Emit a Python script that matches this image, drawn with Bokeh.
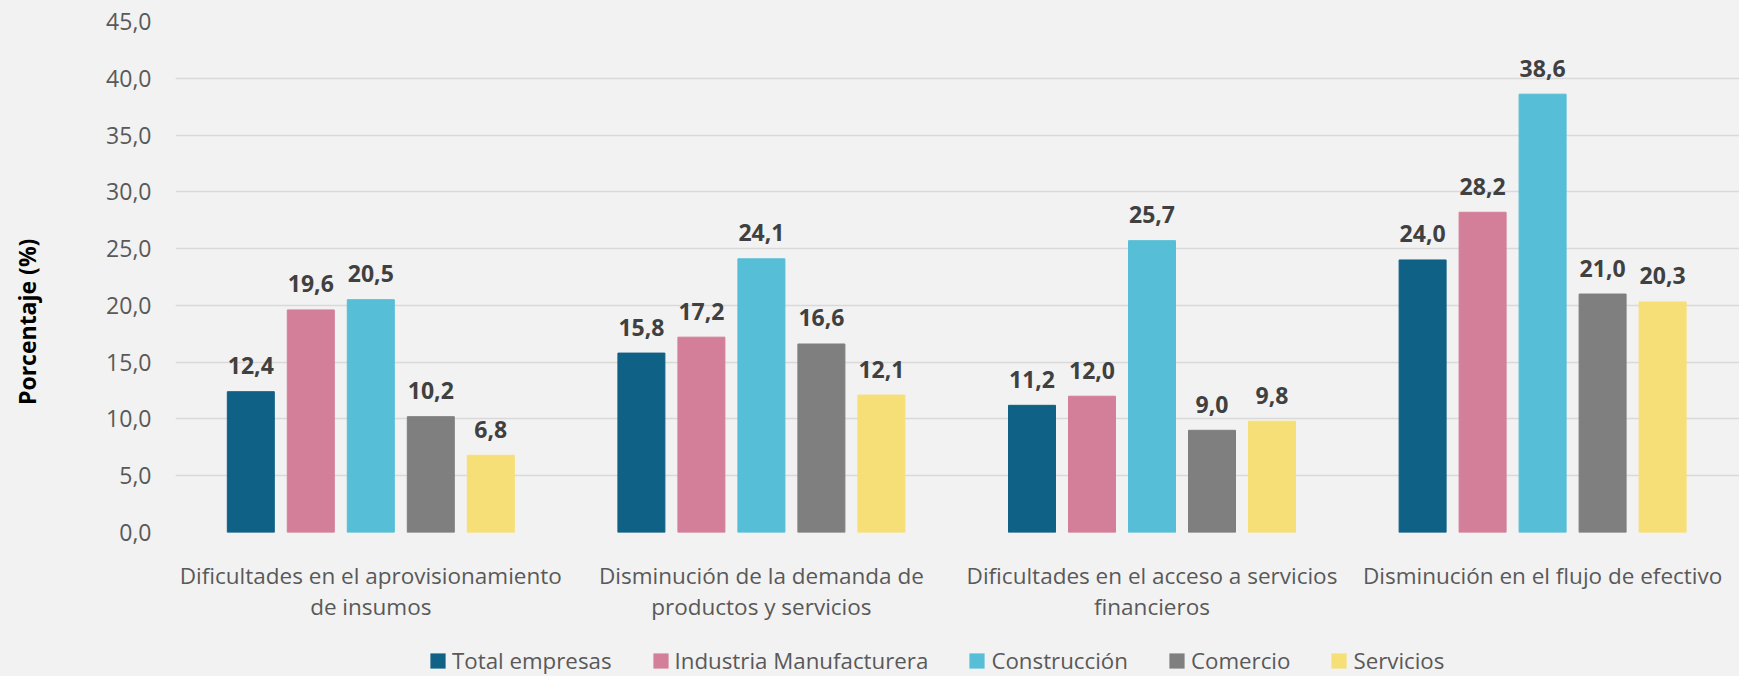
from bokeh.plotting import figure
from bokeh.layouts import column
from bokeh.models import FixedTicker, Legend, LegendItem, ColumnDataSource
from bokeh.embed import file_html
from bokeh.resources import INLINE
from bokeh.core.properties import value

categories = [
    "Dificultades en el aprovisionamiento\nde insumos",
    "Disminución de la demanda de\nproductos y servicios",
    "Dificultades en el acceso a servicios\nfinancieros",
    "Disminución en el flujo de efectivo",
]
series_names = ["Total empresas", "Industria Manufacturera", "Construcción", "Comercio", "Servicios"]
total_empresas = [12.4, 15.8, 11.2, 24.0]
industria_manufacturera = [19.6, 17.2, 12.0, 28.2]
construccion = [20.5, 24.1, 25.7, 38.6]
comercio = [10.2, 16.6, 9.0, 21.0]
servicios = [6.8, 12.1, 9.8, 20.3]
series_values = [total_empresas, industria_manufacturera, construccion, comercio, servicios]
colors = ["#0F6185", "#D47F99", "#56BED6", "#7F7F7F", "#F7DF77"]
y_ticks = [0, 5, 10, 15, 20, 25, 30, 35, 40, 45]
y_title = "Porcentaje (%)"

FONT = "Open Sans"
BG = "#F2F2F2"

W = 1739
H_MAIN, H_LEG = 624, 52
left_border = 175
cat_px = 390.6
frame_w = W - left_border
span = frame_w / cat_px

p = figure(width=W, height=H_MAIN, output_backend="svg", toolbar_location=None,
           x_range=(-0.5, -0.5 + span), y_range=(0, 45),
           min_border_left=left_border, min_border_right=0,
           min_border_top=21, min_border_bottom=H_MAIN - 541)
p.background_fill_color = BG
p.border_fill_color = BG
p.outline_line_color = None

pitch = 0.1536
bw = 0.1203
for j, (name, vals, col) in enumerate(zip(series_names, series_values, colors)):
    xs = [i + (j - 2) * pitch for i in range(len(categories))]
    src = ColumnDataSource(dict(x=xs, top=vals,
                                lab=[f"{v:.1f}".replace(".", ",") for v in vals]))
    p.vbar(x="x", top="top", width=bw, bottom=0, source=src,
           fill_color=col, line_color=col, line_width=1)
    p.text(x="x", y="top", text="lab", source=src, text_align="center",
           text_baseline="alphabetic", y_offset=-26,
           text_font=value(FONT), text_font_style="bold",
           text_font_size="23px", text_color="#404040")

# axes
p.xaxis.ticker = FixedTicker(ticks=list(range(len(categories))))
p.xaxis.major_label_overrides = {i: c for i, c in enumerate(categories)}
p.xaxis.major_label_text_font = FONT
p.xaxis.major_label_text_font_size = "22.5px"
p.xaxis.major_label_text_color = "#595959"
p.xaxis.major_label_text_line_height = 1.0
p.xaxis.major_label_standoff = 21
p.xaxis.axis_line_color = None
p.xaxis.major_tick_line_color = None
p.xaxis.minor_tick_line_color = None

p.yaxis.ticker = FixedTicker(ticks=y_ticks)
p.yaxis.major_label_overrides = {t: f"{t:.1f}".replace(".", ",") for t in y_ticks}
p.yaxis.major_label_text_font = FONT
p.yaxis.major_label_text_font_size = "23px"
p.yaxis.major_label_text_color = "#595959"
p.yaxis.major_label_standoff = 18
p.yaxis.axis_line_color = None
p.yaxis.major_tick_line_color = None
p.yaxis.minor_tick_line_color = None
# trailing no-break spaces shift the title's visible part down, as in the original
p.yaxis.axis_label = y_title + "\u00a0" * 15
p.yaxis.axis_label_text_font = FONT
p.yaxis.axis_label_text_font_style = "bold"
p.yaxis.axis_label_text_font_size = "23px"
p.yaxis.axis_label_text_color = "#000000"
p.yaxis.axis_label_standoff = 60

p.xgrid.grid_line_color = None
p.ygrid.grid_line_color = "#D9D9D9"
p.ygrid.grid_line_width = 1.5

# legend in its own strip below the chart (zero-height helper bars carry the swatches)
q = figure(width=W, height=H_LEG, output_backend="svg", toolbar_location=None,
           x_range=(0, 1), y_range=(0, 1), min_border=0)
q.axis.visible = False
q.grid.visible = False
q.background_fill_color = BG
q.border_fill_color = BG
q.outline_line_color = None
items = []
for name, col in zip(series_names, colors):
    r = q.vbar(x=[0.5], top=[0], bottom=[0], width=0.0, fill_color=col, line_color=None)
    items.append(LegendItem(label=name, renderers=[r]))
legend = Legend(items=items, orientation="horizontal", location=(253, 0),
                label_text_font=FONT, label_text_font_size="22.3px",
                label_text_color="#595959", glyph_width=19, glyph_height=19,
                label_standoff=5, spacing=39, padding=0, margin=0,
                border_line_color=None, background_fill_alpha=0)
q.add_layout(legend, "center")

layout = column(p, q, spacing=0)
html = file_html(layout, INLINE)
html = html.replace("<head>", "<head><style>body{background:#F2F2F2}</style>", 1)
open("out.html", "w").write(html)
